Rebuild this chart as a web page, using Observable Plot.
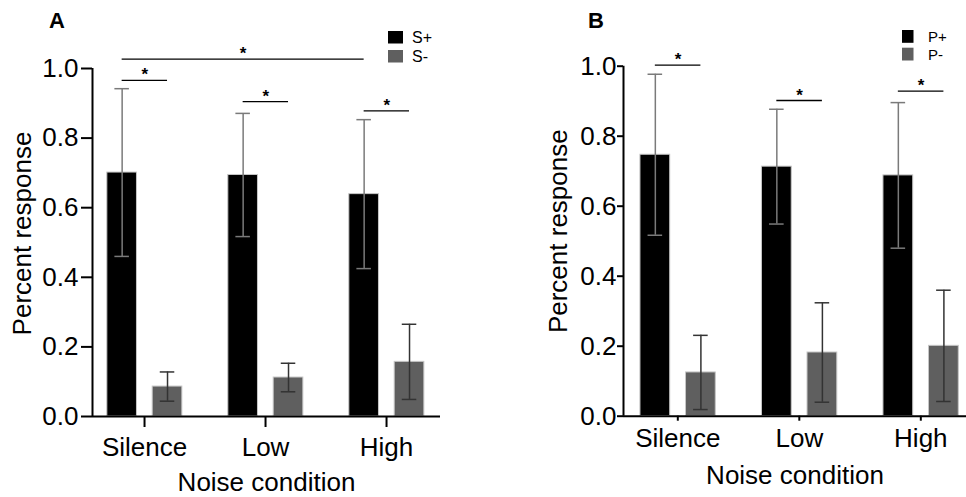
<!DOCTYPE html>
<html>
<head>
<meta charset="utf-8">
<script src="https://cdn.jsdelivr.net/npm/d3@7"></script>
<script src="https://cdn.jsdelivr.net/npm/@observablehq/plot@0.6"></script>
<style>
  html, body { margin: 0; padding: 0; background: #fff; }
  #wrap { position: relative; width: 966px; height: 497px; overflow: hidden; background: #fff; }
  #panelA, #panelB { position: absolute; top: 0; }
  #panelA { left: 0; }
  #panelB { left: 483px; }
  #overlay { position: absolute; left: 0; top: 0; pointer-events: none; }
</style>
</head>
<body>
<div id="wrap">
  <div id="panelA"></div>
  <div id="panelB"></div>
</div>
<script>
// ---------------- data ----------------
const conditions = ["Silence", "Low", "High"];
const yTicks = [0, 0.2, 0.4, 0.6, 0.8, 1.0];
const xTitle = "Noise condition";
const yTitle = "Percent response";

// Panel A
const panelTitleA = "A";
const seriesA = ["S+", "S-"];
const meanA_Splus = [0.701, 0.694, 0.639];
const sdA_Splus = [0.241, 0.177, 0.214];
const meanA_Sminus = [0.086, 0.112, 0.157];
const sdA_Sminus = [0.042, 0.041, 0.108];
const sigPairLevelsA = [0.966, 0.905, 0.878];
const sigAcrossA = ["Silence", "High"];
const sigAcrossLevelA = 1.027;

// Panel B
const panelTitleB = "B";
const seriesB = ["P+", "P-"];
const meanB_Pplus = [0.747, 0.713, 0.688];
const sdB_Pplus = [0.230, 0.164, 0.208];
const meanB_Pminus = [0.125, 0.182, 0.201];
const sdB_Pminus = [0.106, 0.142, 0.159];
const sigPairLevelsB = [1.003, 0.902, 0.929];

// ---------------- styling / layout ----------------
const FONT = "'Liberation Sans', Arial, Helvetica, sans-serif";
const FILLS = ["#000000", "#5f5f5f"];
const ERR = ["#7a7a7a", "#333333"];
const OFFSETS = [-0.185, 0.19];   // within-group offset (in group units)
const BAR_HALF = 0.1225;
const CAP_HALF = 0.06;

function buildPanel(cfg) {
  const rows = conditions.flatMap((c, i) =>
    cfg.series.map((s, j) => ({condition: c, i, series: s, j, mean: cfg.means[j][i], sd: cfg.sds[j][i]})));
  const center = d => d.i + OFFSETS[d.j];
  const marks = [];
  cfg.series.forEach((s, j) => {
    const sub = rows.filter(d => d.j === j);
    marks.push(Plot.rect(sub, {
      x1: d => center(d) - BAR_HALF, x2: d => center(d) + BAR_HALF,
      y1: 0, y2: "mean", fill: FILLS[j], stroke: "#c6c6c6", strokeWidth: 1
    }));
  });
  cfg.series.forEach((s, j) => {
    const sub = rows.filter(d => d.j === j);
    marks.push(Plot.ruleX(sub, {x: center, y1: d => d.mean - d.sd, y2: d => d.mean + d.sd, stroke: ERR[j], strokeWidth: 1.5}));
    marks.push(Plot.ruleY(sub, {x1: d => center(d) - CAP_HALF, x2: d => center(d) + CAP_HALF, y: d => d.mean + d.sd, stroke: ERR[j], strokeWidth: 1.5}));
    marks.push(Plot.ruleY(sub, {x1: d => center(d) - CAP_HALF, x2: d => center(d) + CAP_HALF, y: d => d.mean - d.sd, stroke: ERR[j], strokeWidth: 1.5}));
  });
  // axes lines
  marks.push(Plot.ruleY([0], {stroke: "#000", strokeWidth: 2}));
  marks.push(Plot.ruleX([cfg.xDomain[0]], {stroke: "#000", strokeWidth: 2}));
  marks.push(Plot.axisY({
    ticks: yTicks, tickFormat: d3.format(".1f"), tickSize: cfg.yTickSize, tickPadding: cfg.yTickPadding,
    strokeWidth: 2, label: null, fontSize: 26
  }));
  marks.push(Plot.axisX({
    ticks: conditions.map((_, i) => i), tickFormat: i => conditions[i],
    tickSize: cfg.xTickSize, tickPadding: cfg.xTickPadding, strokeWidth: 2, label: null, fontSize: 26
  }));
  // significance brackets
  const sig = conditions.map((c, i) => ({x1: i + OFFSETS[0], x2: i + OFFSETS[1], y: cfg.sigLevels[i]}));
  if (cfg.across) {
    sig.push({
      x1: conditions.indexOf(cfg.across[0]) + OFFSETS[0],
      x2: conditions.indexOf(cfg.across[1]) + OFFSETS[0],
      y: cfg.acrossLevel
    });
  }
  marks.push(Plot.ruleY(sig, {x1: "x1", x2: "x2", y: "y", stroke: "#000", strokeWidth: 1.3}));
  marks.push(Plot.text(sig, {
    x: d => (d.x1 + d.x2) / 2, y: "y", text: () => "*", lineAnchor: "bottom",
    fontSize: 17, fontWeight: "bold", fill: "#000"
  }));
  // axis titles
  marks.push(Plot.text([xTitle], {frameAnchor: "bottom", lineAnchor: "top", textAnchor: "middle", dy: cfg.xLabelDy, fontSize: 26, fill: "#000"}));
  marks.push(Plot.text([yTitle], {
    frameAnchor: "left", rotate: -90, lineAnchor: "top", textAnchor: "middle",
    dx: cfg.yLabelDx, dy: cfg.yLabelDy, fontSize: 26, fill: "#000"
  }));

  return Plot.plot({
    width: cfg.width, height: cfg.height,
    marginLeft: cfg.margin[0], marginRight: cfg.margin[1], marginTop: cfg.margin[2], marginBottom: cfg.margin[3],
    x: {type: "linear", domain: cfg.xDomain},
    y: {domain: [0, 1]},
    style: {fontFamily: FONT, fontSize: "26px", color: "#000", background: "transparent", overflow: "visible"},
    marks
  });
}

document.getElementById("panelA").append(buildPanel({
  series: seriesA,
  means: [meanA_Splus, meanA_Sminus], sds: [sdA_Splus, sdA_Sminus],
  sigLevels: sigPairLevelsA, across: sigAcrossA, acrossLevel: sigAcrossLevelA,
  xDomain: [-0.43, 2.446],
  width: 483, height: 497, margin: [92, 43, 68, 81],
  xTickSize: 11, xTickPadding: 10, yTickSize: 11, yTickPadding: 3,
  xLabelDy: 56, yLabelDx: -80, yLabelDy: -9
}));

document.getElementById("panelB").append(buildPanel({
  series: seriesB,
  means: [meanB_Pplus, meanB_Pminus], sds: [sdB_Pplus, sdB_Pminus],
  sigLevels: sigPairLevelsB, across: null,
  xDomain: [-0.447, 2.376],
  width: 483, height: 497, margin: [140, 0, 65.7, 81.3],
  xTickSize: 5, xTickPadding: 7, yTickSize: 6, yTickPadding: 1,
  xLabelDy: 49, yLabelDx: -75, yLabelDy: -10
}));

// ---------------- panel letters and legends ----------------
const overlay = d3.select("#wrap").append("svg")
  .attr("id", "overlay").attr("width", 966).attr("height", 497)
  .style("font-family", FONT);

overlay.append("text").attr("x", 49).attr("y", 28.3)
  .attr("font-size", 22).attr("font-weight", "bold").text(panelTitleA);
overlay.append("text").attr("x", 588).attr("y", 28.3)
  .attr("font-size", 22).attr("font-weight", "bold").text(panelTitleB);

function legend(series, x, ys, w, h, textX, fontSize) {
  series.forEach((s, j) => {
    overlay.append("rect").attr("x", x).attr("y", ys[j]).attr("width", w).attr("height", h).attr("fill", FILLS[j]);
    overlay.append("text").attr("x", textX).attr("y", ys[j] + h / 2)
      .attr("dy", "0.36em").attr("font-size", fontSize).text(s);
  });
}
legend(seriesA, 388, [31, 50], 15, 12.5, 412, 16);
legend(seriesB, 902, [30, 47.7], 11.5, 12.8, 928, 15);
</script>
</body>
</html>
